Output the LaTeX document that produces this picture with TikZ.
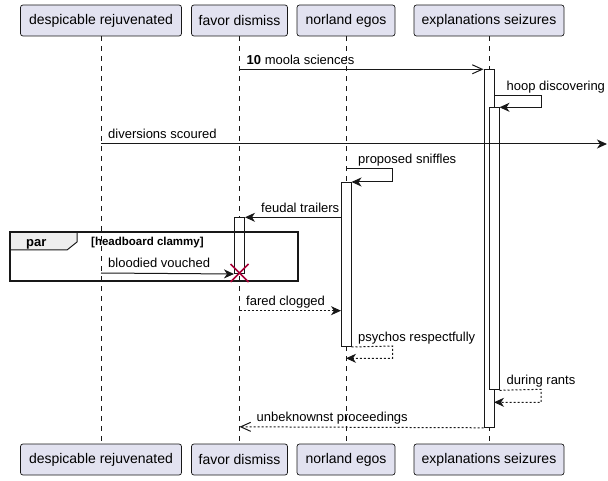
\documentclass[tikz,border=0pt]{standalone}
\usepackage{fontspec}
\setmainfont{Liberation Sans}
\usetikzlibrary{arrows.meta}
\definecolor{partfill}{HTML}{E2E2F0}
\definecolor{ink}{HTML}{181818}
\definecolor{xred}{HTML}{A80036}
\definecolor{tabfill}{HTML}{EEEEEE}
\tikzset{
  part/.style={draw=ink, fill=partfill, rounded corners=2.5pt, line width=0.7pt,
    minimum height=31pt, inner sep=0pt, font=\fontsize{14}{16}\selectfont},
  life/.style={draw=ink, dash pattern=on 5pt off 5pt, line width=0.5pt},
  actbox/.style={draw=ink, fill=white, line width=1pt},
  msg/.style={draw=ink, line width=1pt, -{Stealth[length=10pt,width=9pt,inset=3pt]}},
  openmsg/.style={draw=ink, line width=1pt, -{Straight Barb[length=10pt,width=9pt]}},
  ret/.style={dash pattern=on 2pt off 2pt},
  lbl/.style={anchor=base west, inner sep=0pt, font=\fontsize{13}{15}\selectfont},
}
\begin{document}
\begin{tikzpicture}[x=1pt, y=-1pt]
\useasboundingbox (0,0) rectangle (608,481);
% participants
\node[part, minimum width=161pt] (p1t) at (101,20.5) {despicable rejuvenated};
\node[part, minimum width=96pt] (p2t) at (239.5,20.5) {favor dismiss};
\node[part, minimum width=98pt] (p3t) at (346,20.5) {norland egos};
\node[part, minimum width=150pt] (p4t) at (489,20.5) {explanations seizures};
\node[part, minimum width=161pt] (p1b) at (101,459.5) {despicable rejuvenated};
\node[part, minimum width=96pt] (p2b) at (239.5,459.5) {favor dismiss};
\node[part, minimum width=98pt] (p3b) at (346,459.5) {norland egos};
\node[part, minimum width=150pt] (p4b) at (489,459.5) {explanations seizures};
% lifelines
\draw[life] (p1t.south) -- (p1b.north);
\draw[life] (p2t.south) -- (p2b.north);
\draw[life] (p3t.south) -- (p3b.north);
\draw[life] (p4t.south) -- (p4b.north);
% activations
\node[actbox, minimum width=10pt, minimum height=357.5pt, inner sep=0pt, anchor=north] (a4) at (489,69.3) {};
\node[actbox, minimum width=10pt, minimum height=282pt, inner sep=0pt, anchor=north] (a4n) at (494,107.3) {};
\node[actbox, minimum width=10pt, minimum height=164pt, inner sep=0pt, anchor=north] (a3) at (346,182) {};
\node[actbox, minimum width=10pt, minimum height=55.7pt, inner sep=0pt, anchor=north] (a2) at (239.5,217.3) {};
% par frame
\draw[ink, fill=tabfill, line width=1pt] (10,232) -- (77,232) -- (77,242) -- (67,250) -- (10,250) -- cycle;
\draw[ink, line width=1.5pt] (10,232) rectangle (298,281);
\node[lbl, font=\fontsize{13}{15}\selectfont\bfseries] (parlbl) at (26,247) {par};
\node[lbl, font=\fontsize{11.5}{13}\selectfont\bfseries] (parcond) at (91,246) {[headboard clammy]};
% message end points
\coordinate (m1s) at (239.5,69.3); \coordinate (m1e) at (a4.north west);
\coordinate (m2s) at (494,95.7); \coordinate (m2a) at (541,95.7); \coordinate (m2b) at (541,107.3); \coordinate (m2e) at (a4n.north east);
\coordinate (m3s) at (101,144); \coordinate (m3e) at (607,144);
\coordinate (m4s) at (346,169); \coordinate (m4a) at (392.5,169); \coordinate (m4b) at (392.5,182); \coordinate (m4e) at (a3.north east);
\coordinate (m5s) at (341,217.3); \coordinate (m5e) at (a2.north east);
\coordinate (m6s) at (101,273); \coordinate (m6e) at (a2.south west);
\coordinate (xc) at (239.5,273);
\coordinate (m7s) at (239.5,310.7); \coordinate (m7e) at (341,310.7);
\coordinate (m8s) at (a3.south east); \coordinate (m8a) at (392.5,346); \coordinate (m8b) at (392.5,358.3); \coordinate (m8e) at (346,358.3);
\coordinate (m9s) at (a4n.south east); \coordinate (m9a) at (541,389.3); \coordinate (m9b) at (541,402.3); \coordinate (m9e) at (494,402.3);
\coordinate (m10s) at (a4.south west); \coordinate (m10e) at (239.5,426.8);
% messages
\draw[openmsg] (m1s) -- (m1e);
\node[lbl] (t1) at (246.5,64.3) {\textbf{10} moola sciences};
\draw[msg] (m2s) -- (m2a) -- (m2b) -- (m2e);
\node[lbl] (t2) at (506.5,90.7) {hoop discovering};
\draw[msg] (m3s) -- (m3e);
\node[lbl] (t3) at (108,139) {diversions scoured};
\draw[msg] (m4s) -- (m4a) -- (m4b) -- (m4e);
\node[lbl] (t4) at (358,164) {proposed sniffles};
\draw[msg] (m5s) -- (m5e);
\node[lbl] (t5) at (261,212.3) {feudal trailers};
\draw[msg] (m6s) -- (m6e);
\node[lbl] (t6) at (108,268) {bloodied vouched};
\draw[xred, line width=1.5pt] ([shift={(-9,-9)}]xc) -- ([shift={(9,9)}]xc)
  ([shift={(-9,9)}]xc) -- ([shift={(9,-9)}]xc);
\draw[msg, ret] (m7s) -- (m7e);
\node[lbl] (t7) at (246,305.7) {fared clogged};
\draw[msg, ret] (m8s) -- (m8a) -- (m8b) -- (m8e);
\node[lbl] (t8) at (358,341) {psychos respectfully};
\draw[msg, ret] (m9s) -- (m9a) -- (m9b) -- (m9e);
\node[lbl] (t9) at (506.5,384.3) {during rants};
\draw[openmsg, ret] (m10s) -- (m10e);
\node[lbl] (t10) at (256.5,421.8) {unbeknownst proceedings};
\end{tikzpicture}
\end{document}
